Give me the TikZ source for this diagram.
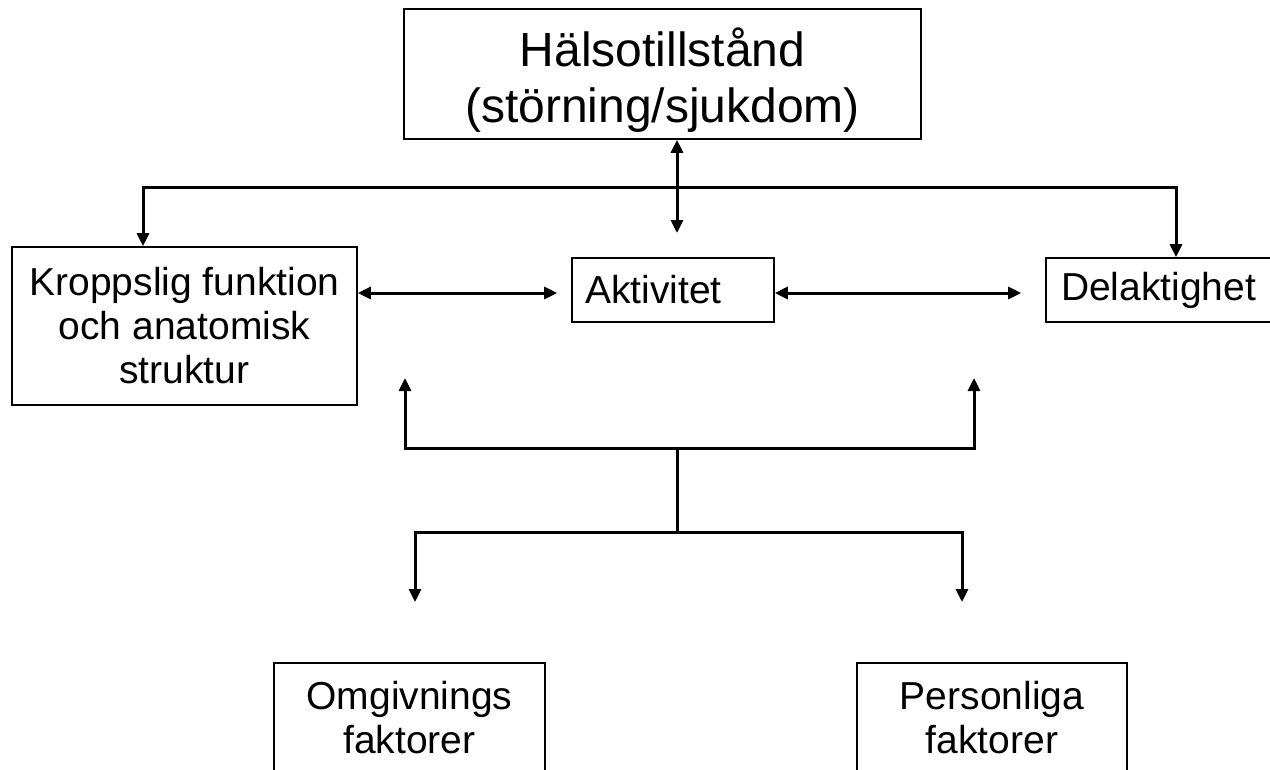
\documentclass[tikz,border=0pt]{standalone}
\usepackage{fontspec}
\setmainfont{Liberation Sans}
\usetikzlibrary{arrows.meta}
\begin{document}
\begin{tikzpicture}[x=1pt,y=-1pt,
  box/.style={draw=black, line width=1.6pt, inner sep=0pt, align=center},
  bodyfont/.style={font=\fontsize{39}{44}\selectfont},
  conn/.style={line width=3pt},
  tipboth/.style={{Triangle[length=13pt,width=12pt]}-{Triangle[length=13pt,width=12pt]}}]
\useasboundingbox (0,0) rectangle (1270,769);
\clip (0,0) rectangle (1270,769);
% nodes
\node[box, minimum width=517pt, minimum height=130pt] (top) at (662.5,74) {};
\node[align=center, inner sep=0pt, font=\fontsize{48}{56}\selectfont] (toptext) at (662.5,80)
      {Hälsotillstånd\\(störning/sjukdom)};
\node[box, bodyfont, minimum width=345pt, minimum height=158pt] (kf) at (184.5,326)
      {Kroppslig funktion\\och anatomisk\\struktur};
\node[box, bodyfont, minimum height=64pt, text width=176pt, inner xsep=13pt,
      align=left] (akt) at (673,290) {Aktivitet};
\node[box, bodyfont, minimum height=64pt, text width=200pt, inner xsep=15pt,
      align=left] (del) at (1161,290) {Delaktighet};
\node[box, bodyfont, minimum width=271pt, minimum height=109pt] (omg) at (409.5,717.5)
      {Omgivnings\\faktorer};
\node[box, bodyfont, minimum width=270pt, minimum height=109pt] (per) at (992,717.5)
      {Personliga\\faktorer};
% coordinates
\coordinate (tl) at (143,187);
\coordinate (tr) at (1176,187);
\coordinate (vt) at (677,233);
\coordinate (ry) at (0,293);
\coordinate (ul) at (405,378);
\coordinate (ur) at (974,378);
\coordinate (ml) at (405,448);
\coordinate (mr) at (974,448);
\coordinate (mc) at (677,448);
\coordinate (lc) at (677,532);
\coordinate (ll) at (415,532);
\coordinate (lr) at (962,532);
\coordinate (dl) at (415,602);
\coordinate (dr) at (962,602);
% connectors
\draw[conn, tipboth] (top.south -| vt) -- (vt);
\draw[conn, tipboth] (kf.north -| tl) -- (tl) -- (tr) -- (del.north -| tr);
\draw[conn, tipboth] (kf.east |- ry) -- ([xshift=-14pt]akt.west |- ry);
\draw[conn, tipboth] (akt.east |- ry) -- ([xshift=-24pt]del.west |- ry);
\draw[conn, tipboth] (ul) -- (ml) -- (mr) -- (ur);
\draw[conn] (mc) -- (lc);
\draw[conn, tipboth] (dl) -- (ll) -- (lr) -- (dr);
\end{tikzpicture}
\end{document}
